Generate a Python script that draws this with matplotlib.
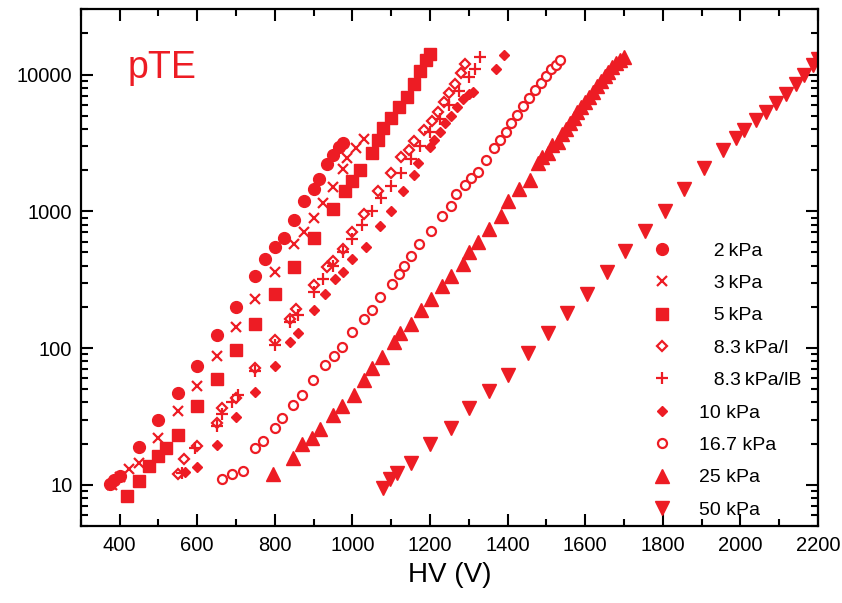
import matplotlib
matplotlib.use("Agg")
import matplotlib.pyplot as plt
from matplotlib.ticker import FixedLocator, MultipleLocator, LogLocator, FuncFormatter, NullFormatter

plt.rcParams['font.family'] = ['Liberation Sans', 'DejaVu Sans']

red = '#ed1c24'

# HV (V) and signal values, one pair of lists per pressure
hv_2 = [375, 385, 400, 450, 500, 550, 600, 650, 700, 750, 775, 800, 825, 850, 875,
        900, 915, 935, 950, 965, 975]
y_2 = [10.2, 10.8, 11.6, 19, 30, 47, 74, 124, 200, 335, 450, 545, 640, 870, 1190,
       1450, 1710, 2200, 2600, 2950, 3150]

hv_3 = [380, 400, 425, 450, 500, 550, 600, 650, 700, 750, 800, 850, 875, 900, 925,
        950, 975, 985, 1010, 1030]
y_3 = [10, 11.5, 13, 14.5, 22, 34.5, 53, 87, 143, 230, 358, 575, 700, 900, 1150,
       1500, 2050, 2450, 2900, 3400]

hv_5 = [420, 450, 475, 500, 520, 550, 600, 650, 700, 750, 800, 850, 900, 950, 980,
        1000, 1020, 1050, 1065, 1080, 1100, 1120, 1140, 1160, 1175, 1190, 1200]
y_5 = [8.3, 10.7, 13.7, 16.2, 18.7, 23.3, 38, 59, 97, 151, 247, 394, 643, 1035, 1400,
       1660, 2020, 2670, 3300, 4050, 4800, 5800, 6900, 8600, 10700, 12700, 14200]

hv_83l = [550, 565, 600, 650, 665, 700, 750, 800, 840, 855, 900, 935, 950, 975, 1000,
          1030, 1065, 1100, 1125, 1145, 1160, 1185, 1205, 1220, 1235, 1250, 1265,
          1280, 1290]
y_83l = [12, 15.4, 19.2, 28.4, 36.5, 43, 71, 114, 164, 194, 287, 389, 435, 530, 700,
         950, 1400, 1900, 2500, 2820, 3240, 3940, 4600, 5300, 6300, 7300, 8600,
         10200, 11900]

hv_83b = [560, 595, 650, 665, 690, 705, 750, 800, 840, 860, 900, 925, 950, 975, 1000,
          1025, 1050, 1075, 1100, 1125, 1150, 1175, 1200, 1225, 1250, 1275, 1300,
          1315, 1330]
y_83b = [12.3, 18.5, 27, 33, 40, 45, 68, 105, 155, 175, 255, 320, 400, 500, 630,
         800, 1000, 1250, 1530, 1900, 2400, 3000, 3800, 4700, 6000, 7600, 9600,
         11000, 13400]

hv_10 = [570, 600, 650, 700, 750, 800, 840, 860, 900, 930, 955, 975, 1000, 1035,
         1070, 1100, 1130, 1160, 1170, 1200, 1210, 1225, 1240, 1255, 1270, 1285,
         1300, 1310, 1370, 1390]
y_10 = [12.5, 13.4, 19.5, 31.5, 48, 74, 110, 128, 189, 250, 321, 358, 450, 544,
        782, 1005, 1400, 1850, 2250, 2950, 3300, 3800, 4400, 5000, 5800, 6600,
        7200, 7500, 11000, 13800]

hv_167 = [665, 690, 718, 748, 770, 800, 820, 847, 869, 899, 930, 952, 973, 1000,
          1030, 1050, 1072, 1102, 1120, 1133, 1150, 1172, 1202, 1232, 1254, 1267,
          1290, 1305, 1323, 1344, 1366, 1380, 1395, 1410, 1425, 1440, 1455, 1470,
          1485, 1500, 1512, 1524, 1534]
y_167 = [11, 12, 12.6, 18.7, 21, 26, 31, 38.5, 45.6, 58.6, 75, 87, 102, 131, 164,
         189, 236, 295, 350, 401, 474, 576, 719, 925, 1090, 1330, 1550, 1754, 1950,
         2390, 2900, 3300, 3800, 4400, 5100, 5900, 6700, 7700, 8700, 9800, 10900,
         11800, 12700]

hv_25 = [795, 847, 869, 895, 917, 951, 973, 1003, 1029, 1051, 1077, 1107, 1124,
         1152, 1178, 1202, 1230, 1254, 1284, 1301, 1325, 1353, 1383, 1400, 1430,
         1457, 1478, 1490, 1504, 1515, 1530, 1540, 1550, 1560, 1570, 1580, 1590,
         1600, 1610, 1620, 1630, 1640, 1650, 1660, 1670, 1680, 1690, 1700]
y_25 = [12, 15.8, 19.8, 22.1, 25.4, 32.6, 37.5, 45.6, 58.6, 71, 86.5, 111, 128,
        149, 189, 227, 283, 339, 412, 500, 600, 740, 925, 1188, 1445, 1708, 2254,
        2500, 2650, 3050, 3200, 3700, 4000, 4400, 4800, 5300, 5800, 6300, 6900,
        7500, 8200, 8900, 9700, 10500, 11300, 12100, 12800, 13400]

hv_50 = [1080, 1098, 1115, 1150, 1200, 1254, 1301, 1353, 1400, 1452, 1504, 1552,
         1604, 1655, 1703, 1755, 1807, 1854, 1906, 1954, 1988, 2010, 2040, 2066,
         2092, 2118, 2144, 2165, 2187, 2200]
y_50 = [9.5, 11, 12.3, 14.5, 19.8, 26.1, 36.5, 48.2, 63.7, 91.5, 128, 179, 250,
        358, 515, 719, 1005, 1445, 2074, 2820, 3420, 3940, 4660, 5350, 6150, 7260,
        8590, 9890, 11690, 13000]

labels = ['\u2007\u20092\u2009kPa', '\u2007\u20093\u2009kPa', '\u2007\u20095\u2009kPa',
          '\u2007\u20098.3\u2009kPa/l', '\u2007\u20098.3\u2009kPa/lB', '10 kPa',
          '16.7 kPa', '25 kPa', '50 kPa']

fig = plt.figure(figsize=(8.42, 6.03), dpi=100)
ax = fig.add_axes([80.7 / 842, 77 / 603, 737.3 / 842, 516.7 / 603])

ax.plot(hv_2, y_2, 'o', ms=8.5, color=red, mec=red, ls='none', label=labels[0])
ax.plot(hv_3, y_3, 'x', ms=7, mew=1.6, color=red, ls='none', label=labels[1])
ax.plot(hv_5, y_5, 's', ms=8, color=red, mec=red, ls='none', label=labels[2])
ax.plot(hv_83l, y_83l, 'D', ms=5.5, mew=1.6, mfc='white', mec=red, ls='none', label=labels[3])
ax.plot(hv_83b, y_83b, '+', ms=9, mew=1.6, color=red, ls='none', label=labels[4])
ax.plot(hv_10, y_10, 'D', ms=5.5, color=red, mec=red, ls='none', label=labels[5])
ax.plot(hv_167, y_167, 'o', ms=6.5, mew=1.6, mfc='white', mec=red, ls='none', label=labels[6])
ax.plot(hv_25, y_25, '^', ms=9.5, color=red, mec=red, ls='none', label=labels[7])
ax.plot(hv_50, y_50, 'v', ms=10, color=red, mec=red, ls='none', label=labels[8])

ax.set_yscale('log')
ax.set_xlim(300, 2200)
ax.set_ylim(5, 30000)

ax.xaxis.set_major_locator(MultipleLocator(200))
ax.xaxis.set_minor_locator(MultipleLocator(100))
ax.yaxis.set_major_locator(FixedLocator([10, 100, 1000, 10000]))
ax.yaxis.set_minor_locator(LogLocator(base=10, subs=range(2, 10)))
ax.yaxis.set_major_formatter(FuncFormatter(lambda v, p: '%d' % v))
ax.yaxis.set_minor_formatter(NullFormatter())
ax.xaxis.set_major_formatter(FuncFormatter(lambda v, p: '%d' % v if v >= 400 else ''))

ax.tick_params(which='both', direction='in', top=True, right=True, width=1.5,
               labelsize=14.5, colors='black')
ax.tick_params(which='major', length=8.5)
ax.tick_params(which='minor', length=5)
ax.tick_params(axis='x', pad=7)
ax.tick_params(axis='y', pad=6)
for s in ax.spines.values():
    s.set_linewidth(1.6)

ax.set_xlabel('HV (V)', fontsize=20, labelpad=5)
ax.text(0.064, 0.867, 'pTE', transform=ax.transAxes, fontsize=27, color=red)

leg = ax.legend(loc='upper left', bbox_to_anchor=(652 / 842, 1 - 242 / 603),
                bbox_transform=fig.transFigure, frameon=False, fontsize=14,
                handlelength=1.0, handletextpad=1.4, labelspacing=0.76,
                borderpad=0, borderaxespad=0, numpoints=1)
for t in leg.get_texts():
    t.set_clip_on(True)
    t.set_clip_box(ax.bbox)

fig.savefig('out.png', dpi=100)
